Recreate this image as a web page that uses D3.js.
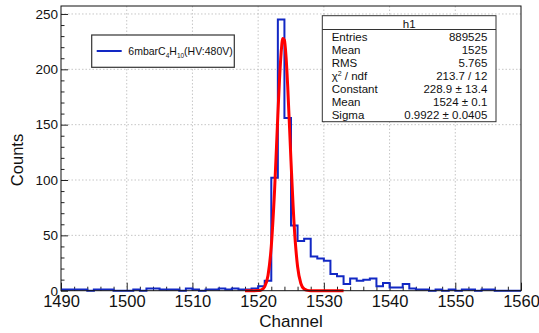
<!DOCTYPE html>
<html>
<head>
<meta charset="utf-8">
<script src="https://cdn.jsdelivr.net/npm/d3@7"></script>
<style>
  body { margin: 0; background: #fff; }
  svg { font-family: "Liberation Sans", Arial, sans-serif; }
</style>
</head>
<body>
<div id="hist-div"></div>
<script>
// histogram bins (lower edge of each 1-channel bin)
var binEdges = [1490,1491,1492,1493,1494,1495,1496,1497,1498,1499,
                1500,1501,1502,1503,1504,1505,1506,1507,1508,1509,
                1510,1511,1512,1513,1514,1515,1516,1517,1518,1519,
                1520,1521,1522,1523,1524,1525,1526,1527,1528,1529,
                1530,1531,1532,1533,1534,1535,1536,1537,1538,1539,
                1540,1541,1542,1543,1544,1545,1546,1547,1548,1549,
                1550,1551,1552,1553,1554,1555,1556,1557,1558,1559];
var binCounts = [1,1,1,1,0,1,1,1,0,0,
                 0,1,0,2,2,1,1,1,0,2,
                 1,0,1,1,2,1,2,1,1,2,
                 4,9,102,245,156,59,45,47,31,29,
                 27,15,13,6,11,9,10,11,4,7,
                 3,3,6,2,1,1,0,1,0,1,
                 0,1,1,0,1,1,0,0,0,0];

// gaussian fit curve
var fitX = [1518,1519,1520,1520.5,1521,1521.5,1522,1522.5,1523,1523.25,1523.5,1523.75,
            1524,1524.25,1524.5,1525,1525.5,1526,1526.5,1527,1527.5,1528,1529,1530,1531,1532,1533];
var fitY = [0,0,0.1,0.8,3.7,13.8,40.2,90.7,158.6,190.6,215.1,227.8,
            226.3,211.0,184.6,116.9,57.4,21.9,6.5,1.5,0.3,0,0,0,0,0,0];

var xTicks = [1490,1500,1510,1520,1530,1540,1550,1560];
var yTicks = [0,50,100,150,200,250];

var legendLabel = "6mbarC";
var statNames = ["Entries","Mean","RMS","χ2 / ndf","Constant","Mean","Sigma"];
var statValues = ["889525","1525","5.765","213.7 / 12","228.9 ± 13.4","1524 ± 0.1","0.9922 ± 0.0405"];

var histColor = "#1228c4";
var fitColor = "#ff0000";

var frame = {left: 61, right: 521, top: 6, bottom: 290.7};

var svg = d3.select("#hist-div")
  .append("svg")
    .attr("width", 539)
    .attr("height", 333);

var x = d3.scaleLinear()
  .domain([1490, 1560])
  .range([frame.left, frame.right]);

var y = d3.scaleLinear()
  .domain([0, 257.2])
  .range([frame.bottom, frame.top]);

// grid lines
svg.append("g")
  .selectAll("line")
  .data(xTicks.slice(1, -1))
  .enter().append("line")
    .attr("x1", function(d) { return x(d); })
    .attr("x2", function(d) { return x(d); })
    .attr("y1", frame.top)
    .attr("y2", frame.bottom)
    .attr("stroke", "#b8b8b8")
    .attr("stroke-width", 0.8)
    .attr("stroke-dasharray", "1.5,2");

svg.append("g")
  .selectAll("line")
  .data(yTicks.slice(1))
  .enter().append("line")
    .attr("x1", frame.left)
    .attr("x2", frame.right)
    .attr("y1", function(d) { return y(d); })
    .attr("y2", function(d) { return y(d); })
    .attr("stroke", "#b8b8b8")
    .attr("stroke-width", 0.8)
    .attr("stroke-dasharray", "1.5,2");

// minor ticks
var xMinor = d3.range(1490, 1561, 2).filter(function(d) { return xTicks.indexOf(d) < 0; });
var yMinor = d3.range(0, 257, 10).filter(function(d) { return yTicks.indexOf(d) < 0; });

svg.append("g")
  .attr("transform", "translate(0," + frame.bottom + ")")
  .call(d3.axisBottom(x).tickValues(xMinor).tickSize(-4).tickFormat(""))
  .call(function(g) { g.select(".domain").remove(); g.selectAll("line").attr("stroke", "#222"); });

svg.append("g")
  .attr("transform", "translate(" + frame.left + ",0)")
  .call(d3.axisLeft(y).tickValues(yMinor).tickSize(-3.5).tickFormat(""))
  .call(function(g) { g.select(".domain").remove(); g.selectAll("line").attr("stroke", "#222"); });

// major axes
var x_axis = d3.axisBottom(x).tickValues(xTicks).tickFormat(d3.format("d"))
  .tickSizeInner(-8).tickSizeOuter(0).tickPadding(4.5);
var y_axis = d3.axisLeft(y).tickValues(yTicks).tickFormat(d3.format("d"))
  .tickSizeInner(-7).tickSizeOuter(0).tickPadding(3);

svg.append("g")
  .attr("class", "x_axis")
  .attr("transform", "translate(0," + frame.bottom + ")")
  .call(x_axis)
  .call(function(g) {
    g.selectAll("text").attr("font-size", 16.5).attr("fill", "#111").style("font-family", "Liberation Sans, Arial");
    g.selectAll("line").attr("stroke", "#222");
    g.select(".domain").remove();
  });

svg.append("g")
  .attr("class", "y_axis")
  .attr("transform", "translate(" + frame.left + ",0)")
  .call(y_axis)
  .call(function(g) {
    g.selectAll("text").attr("font-size", 13.5).attr("fill", "#111").style("font-family", "Liberation Sans, Arial");
    g.selectAll("line").attr("stroke", "#222");
    g.select(".domain").remove();
  });

// histogram outline
var histPts = binEdges.map(function(e, i) { return [e, binCounts[i]]; });
histPts.push([1560, binCounts[binCounts.length - 1]]);

svg.append("path")
  .datum(histPts)
  .attr("fill", "none")
  .attr("stroke", histColor)
  .attr("stroke-width", 2)
  .attr("d", d3.line()
    .curve(d3.curveStepAfter)
    .x(function(d) { return x(d[0]); })
    .y(function(d) { return y(d[1]); }));

// fit
svg.append("path")
  .datum(fitX.map(function(v, i) { return [v, fitY[i]]; }))
  .attr("fill", "none")
  .attr("stroke", fitColor)
  .attr("stroke-width", 3)
  .attr("stroke-linejoin", "round")
  .attr("d", d3.line()
    .curve(d3.curveMonotoneX)
    .x(function(d) { return x(d[0]); })
    .y(function(d) { return y(d[1]); }));

// frame
svg.append("rect")
  .attr("x", frame.left)
  .attr("y", frame.top)
  .attr("width", frame.right - frame.left)
  .attr("height", frame.bottom - frame.top)
  .attr("fill", "none")
  .attr("stroke", "#111")
  .attr("stroke-width", 1);

// axis titles
svg.append("text")
  .attr("x", 291)
  .attr("y", 327)
  .attr("text-anchor", "middle")
  .attr("font-size", 17)
  .attr("fill", "#111")
  .text("Channel");

svg.append("text")
  .attr("transform", "translate(23,160) rotate(-90)")
  .attr("text-anchor", "middle")
  .attr("font-size", 16.5)
  .attr("fill", "#111")
  .text("Counts");

// legend
svg.append("rect")
  .attr("x", 91.7).attr("y", 35)
  .attr("width", 142.6).attr("height", 32.3)
  .attr("fill", "#fff")
  .attr("stroke", "#333")
  .attr("stroke-width", 1.2);

svg.append("line")
  .attr("x1", 96.7).attr("x2", 121.7)
  .attr("y1", 51).attr("y2", 51)
  .attr("stroke", histColor)
  .attr("stroke-width", 2);

var leg = svg.append("text")
  .attr("x", 128.3)
  .attr("y", 55)
  .attr("font-size", 10.5)
  .attr("fill", "#111");
leg.append("tspan").text(legendLabel);
leg.append("tspan").attr("font-size", 6.5).attr("dy", 2.5).text("4");
leg.append("tspan").attr("dy", -2.5).text("H");
leg.append("tspan").attr("font-size", 6.5).attr("dy", 2.5).text("10");
leg.append("tspan").attr("dy", -2.5).text("(HV:480V)");

// stats box
var sb = {x: 322.3, y: 15.7, w: 173.7, h: 106, head: 13.8};
svg.append("rect")
  .attr("x", sb.x).attr("y", sb.y)
  .attr("width", sb.w).attr("height", sb.h)
  .attr("fill", "#fff")
  .attr("stroke", "#333")
  .attr("stroke-width", 1);

svg.append("line")
  .attr("x1", sb.x).attr("x2", sb.x + sb.w)
  .attr("y1", sb.y + sb.head).attr("y2", sb.y + sb.head)
  .attr("stroke", "#333")
  .attr("stroke-width", 1);

svg.append("text")
  .attr("x", sb.x + sb.w / 2)
  .attr("y", 27.5)
  .attr("text-anchor", "middle")
  .attr("font-size", 11.5)
  .attr("fill", "#111")
  .text("h1");

var statRows = svg.append("g").selectAll("g")
  .data(statNames)
  .enter().append("g");

statRows.append("text")
  .attr("x", 331.7)
  .attr("y", function(d, i) { return 40.5 + i * 13.1; })
  .attr("font-size", 11.5)
  .attr("fill", "#111")
  .each(function(d) {
    var t = d3.select(this);
    if (d.indexOf("χ2") === 0) {
      t.append("tspan").text("χ");
      t.append("tspan").attr("font-size", 7).attr("dy", -4).text("2");
      t.append("tspan").attr("dy", 4).text(" / ndf");
    } else {
      t.text(d);
    }
  });

statRows.append("text")
  .attr("x", 487.3)
  .attr("y", function(d, i) { return 40.5 + i * 13.1; })
  .attr("text-anchor", "end")
  .attr("font-size", 11.5)
  .attr("fill", "#111")
  .text(function(d, i) { return statValues[i]; });
</script>
</body>
</html>
